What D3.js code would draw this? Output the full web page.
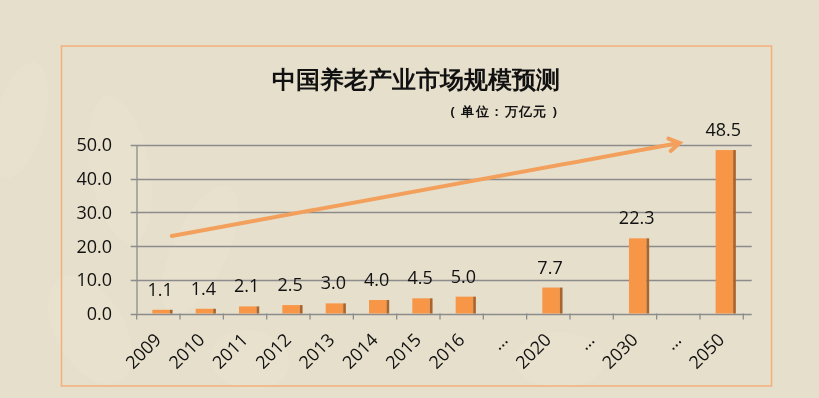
<!DOCTYPE html>
<html><head><meta charset="utf-8">
<script src="https://cdn.jsdelivr.net/npm/d3@7/dist/d3.min.js"></script>
<style>
html,body{margin:0;padding:0;background:#E6DFCC;}
svg{display:block;}
text{font-family:"Open Sans","Noto Sans",sans-serif;}
</style></head>
<body>
<svg id="chart" width="819" height="398"></svg>
<script>
const categories = ["2009","2010","2011","2012","2013","2014","2015","2016","…","2020","…","2030","…","2050"];
const values = [1.1,1.4,2.1,2.5,3.0,4.0,4.5,5.0,null,7.7,null,22.3,null,48.5];
const yTicks = [0,10,20,30,40,50];
const title = "中国养老产业市场规模预测";
const subtitle = "( 单位 : 万亿元 )";
// trend arrow anchors in data space: [category position, value]
const arrowFrom = [0.81, 23];
const arrowTo = [12.53, 50.6];

const svg = d3.select("#chart");
const W = 819, H = 398;
svg.append("rect").attr("width", W).attr("height", H).attr("fill", "#E6DFCC");

// faint background leaves
const leaves = svg.append("g").attr("opacity", 0.25);
[[120,170,30,75,-10],[200,250,28,70,25],[90,330,35,60,-30],[250,360,40,30,10],[560,360,45,28,0],[20,120,25,60,15]].forEach(d=>{
  leaves.append("ellipse").attr("cx",d[0]).attr("cy",d[1]).attr("rx",d[2]).attr("ry",d[3])
    .attr("transform",`rotate(${d[4]},${d[0]},${d[1]})`).attr("fill","#EDE6D6");
});

// frame
svg.append("rect").attr("x", 61.5).attr("y", 46).attr("width", 710).attr("height", 340)
  .attr("fill", "none").attr("stroke", "#F3B07A").attr("stroke-width", 1.5);

const idx = d3.range(categories.length);
const x = d3.scaleBand().domain(idx).range([136.7, 743.3]).padding(0);
const y = d3.scaleLinear().domain([0, 50]).range([313.5, 145]);
const bw = x.bandwidth();
const xPos = p => x.range()[0] + p * x.step();

// gridlines
svg.append("g").selectAll("line").data(yTicks).join("line")
  .attr("x1", 130.7).attr("x2", 751.7)
  .attr("y1", d => Math.round(y(d)) + 0.5).attr("y2", d => Math.round(y(d)) + 0.5)
  .attr("stroke", "#8C8C8C").attr("stroke-width", 1.3);

// y axis line
svg.append("line").attr("x1", 137).attr("x2", 137).attr("y1", y(50)).attr("y2", y(0))
  .attr("stroke", "#8C8C8C").attr("stroke-width", 1.3);

// y labels
svg.append("g").selectAll("text").data(yTicks).join("text")
  .attr("x", 112).attr("y", d => y(d)).attr("dy", "0.36em")
  .attr("text-anchor", "end").attr("font-size", 18).attr("fill", "#111")
  .text(d => d3.format(".1f")(d));

// bottom ticks
const tickX = idx.map(i => x(i)).concat([x.range()[1]]);
svg.append("g").selectAll("line").data(tickX).join("line")
  .attr("x1", d => d).attr("x2", d => d).attr("y1", y(0)).attr("y2", y(0) + 6)
  .attr("stroke", "#8C8C8C").attr("stroke-width", 1.3);

// bars
const data = categories.map((c, i) => ({i, c, v: values[i]})).filter(d => d.v !== null);
const bars = svg.append("g");
bars.selectAll("rect.front").data(data).join("rect").attr("class", "front")
  .attr("x", d => x(d.i) + bw / 2 - 6).attr("width", 17.5)
  .attr("y", d => y(d.v)).attr("height", d => y(0) - y(d.v))
  .attr("fill", "#F79646");
bars.selectAll("rect.side").data(data).join("rect").attr("class", "side")
  .attr("x", d => x(d.i) + bw / 2 + 11.5).attr("width", 2.7)
  .attr("y", d => y(d.v)).attr("height", d => y(0) - y(d.v))
  .attr("fill", "#A8652E");

// value labels
svg.append("g").selectAll("text").data(data).join("text")
  .attr("x", d => x(d.i) + bw / 2 + 1.7).attr("y", d => y(d.v) - 14)
  .attr("text-anchor", "middle").attr("font-size", 18).attr("fill", "#111")
  .text(d => d3.format(".1f")(d.v));

// x labels
svg.append("g").selectAll("text").data(idx).join("text")
  .attr("transform", i => `translate(${x(i) + bw / 2 + 4},${341}) rotate(-45)`)
  .attr("text-anchor", "end").attr("font-size", 18).attr("fill", "#111")
  .text(i => categories[i]);

// trend arrow
const ax1 = xPos(arrowFrom[0]), ay1 = y(arrowFrom[1]);
const ax2 = xPos(arrowTo[0]), ay2 = y(arrowTo[1]);
const ang = Math.atan2(ay2 - ay1, ax2 - ax1);
const arrowColor = "#F2A05C";
svg.append("line").attr("x1", ax1).attr("y1", ay1).attr("x2", ax2 - 2 * Math.cos(ang)).attr("y2", ay2 - 2 * Math.sin(ang))
  .attr("stroke", arrowColor).attr("stroke-width", 4).attr("stroke-linecap", "round");
const hl = 12, ha = 0.55;
svg.append("path")
  .attr("d", `M${ax2 - hl * Math.cos(ang - ha)},${ay2 - hl * Math.sin(ang - ha)} L${ax2},${ay2} L${ax2 - hl * Math.cos(ang + ha)},${ay2 - hl * Math.sin(ang + ha)}`)
  .attr("fill", "none").attr("stroke", arrowColor).attr("stroke-width", 4)
  .attr("stroke-linecap", "round").attr("stroke-linejoin", "miter");

// title
svg.append("text").attr("x", 416).attr("y", 88).attr("text-anchor", "middle")
  .attr("font-family", "'Noto Sans CJK SC',sans-serif").attr("font-weight", "bold")
  .attr("font-size", 23.5).attr("fill", "#111").text(title);
svg.append("text").attr("x", 504.5).attr("y", 116).attr("text-anchor", "middle")
  .attr("font-family", "'Noto Sans CJK SC',sans-serif").attr("font-weight", "bold")
  .attr("font-size", 13).attr("letter-spacing", 1.4).attr("fill", "#111")
  .style("white-space", "pre").text(subtitle);
</script>
</body></html>
